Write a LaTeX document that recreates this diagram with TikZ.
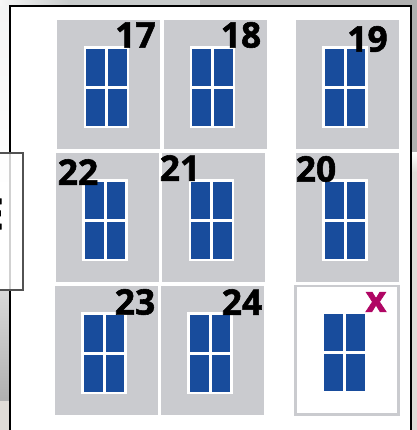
\documentclass[tikz,border=0pt]{standalone}
\usepackage{fontspec}
\setmainfont[BoldFeatures={FakeBold=1.6}]{Open Sans}
\definecolor{tilegray}{RGB}{202,203,207}
\definecolor{paneblue}{RGB}{24,76,156}
\definecolor{xmag}{RGB}{176,6,100}
\definecolor{bgtop}{RGB}{176,176,176}
\definecolor{bgmid}{RGB}{200,203,203}
\definecolor{bgbot}{RGB}{224,220,215}
\tikzset{
  px/.style={x=0.75pt,y=-0.75pt},
  tilebox/.style={fill=tilegray,draw=none},
  panebox/.style={fill=paneblue,draw=none},
  frameW/.style={fill=white,draw=none},
  numlabel/.style={font=\fontsize{26.5}{26}\selectfont\bfseries,text=black,inner sep=0pt,anchor=center},
}
\newcommand{\tileAt}[2]{\fill[tilebox] (#1,#2) rectangle ++(103,129);}
\newcommand{\winAt}[2]{%
  \fill[frameW] (#1,#2) rectangle ++(45.5,82);
  \fill[panebox] (#1+2.5,#2+2.5) rectangle ++(18.7,37);
  \fill[panebox] (#1+24.2,#2+2.5) rectangle ++(18.7,37);
  \fill[panebox] (#1+2.5,#2+42.5) rectangle ++(18.7,37);
  \fill[panebox] (#1+24.2,#2+42.5) rectangle ++(18.7,37);}
\begin{document}
\begin{tikzpicture}[px]
\useasboundingbox (0,0) rectangle (417,430);
% surrounding background
\fill[left color=white!85!bgmid,right color=bgmid] (0,0) rectangle (70,6);
\fill[bgmid] (70,0) rectangle (200,6);
\fill[bgtop] (200,0) rectangle (417,6);
\fill[top color=white!80!bgmid,bottom color=white] (0,6) rectangle (10,190);
\fill[white] (0,190) rectangle (10,290);
\fill[top color=white!85!black,bottom color=bgtop] (0,290) rectangle (10,401);
\fill[bgbot] (0,401) rectangle (10,430);
\fill[bgtop] (411,0) rectangle (417,152);
\fill[top color=white,bottom color=bgbot] (411,152) rectangle (417,172);
\fill[bgbot] (411,172) rectangle (417,430);
\fill[white] (10,6) rectangle (411,430);
\draw[black,line width=1.5pt] (10,430) -- (10,6) -- (411,6) -- (411,430);
% side box
\fill[white,opacity=0.82] (-2,152.5) rectangle (23,289.5);
\draw[black!68,line width=1.5pt] (-2,152.5) -- (23,152.5) -- (23,289.5) -- (-2,289.5);
\node[font=\fontsize{32}{32}\selectfont\bfseries,inner sep=0pt,anchor=east] (side) at (4,214) {E};
% tiles
\tileAt{57}{20}\tileAt{164}{20}\tileAt{296}{20}
\tileAt{56}{153}\tileAt{162}{153}\tileAt{296}{153}
\tileAt{55}{286}\tileAt{161}{286}
\fill[white,draw=tilegray,line width=2pt] (295.6,286) rectangle (398.7,414.4);
\winAt{84}{46}\winAt{190}{46}\winAt{322.5}{46}
\winAt{82.5}{179}\winAt{189}{179}\winAt{322.5}{179}
\winAt{81.5}{312}\winAt{187.5}{312}
\fill[panebox] (324.5,314) rectangle ++(18.7,37);
\fill[panebox] (346.2,314) rectangle ++(18.7,37);
\fill[panebox] (324.5,354) rectangle ++(18.7,37);
\fill[panebox] (346.2,354) rectangle ++(18.7,37);
% labels
\node[numlabel] (n17) at (135.5,35) {17};
\node[numlabel] (n18) at (241,35) {18};
\node[numlabel] (n19) at (367.5,39) {19};
\node[numlabel] (n22) at (78,172) {22};
\node[numlabel] (n21) at (180,168) {21};
\node[numlabel] (n20) at (316,169) {20};
\node[numlabel] (n23) at (135,302) {23};
\node[numlabel] (n24) at (242,302) {24};
\node[font=\fontsize{27}{27}\selectfont\bfseries,text=xmag,inner sep=0pt] (nx) at (376,302) {x};
\end{tikzpicture}
\end{document}
